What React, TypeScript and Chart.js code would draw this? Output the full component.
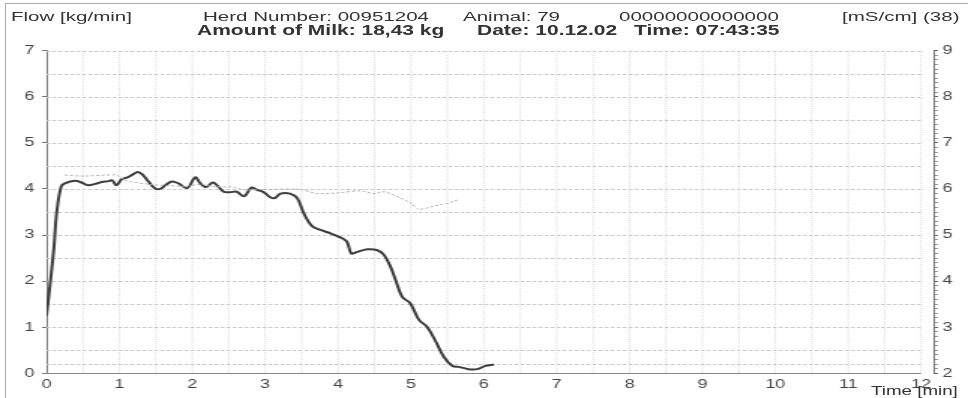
import React, { useEffect, useRef } from "react";
import { Chart, registerables } from "chart.js";

Chart.register(...registerables);

// ---- data (time in minutes) ----
const flowTime = [
  0.0, 0.05, 0.1, 0.14, 0.2, 0.25, 0.39, 0.48, 0.57, 0.67, 0.76, 0.85, 0.9, 0.96,
  1.03, 1.11, 1.17, 1.25, 1.31, 1.4, 1.49, 1.56, 1.63, 1.72, 1.81, 1.93, 2.04,
  2.11, 2.19, 2.28, 2.34, 2.43, 2.52, 2.61, 2.71, 2.81, 2.89, 2.98, 3.07, 3.13,
  3.21, 3.34, 3.44, 3.53, 3.64, 3.76, 3.89, 4.03, 4.12, 4.18, 4.24, 4.4, 4.54,
  4.63, 4.72, 4.79, 4.88, 4.99, 5.11, 5.22, 5.34, 5.45, 5.57, 5.66, 5.79, 5.91,
  6.02, 6.14,
];
const flowValues = [
  1.25, 1.95, 2.7, 3.5, 4.05, 4.12, 4.18, 4.14, 4.08, 4.11, 4.15, 4.17, 4.19, 4.08,
  4.21, 4.25, 4.3, 4.37, 4.32, 4.16, 4.01, 4.0, 4.08, 4.16, 4.12, 4.02, 4.25,
  4.12, 4.04, 4.14, 4.08, 3.94, 3.93, 3.94, 3.84, 4.03, 3.98, 3.93, 3.82, 3.8,
  3.9, 3.9, 3.8, 3.47, 3.2, 3.11, 3.04, 2.95, 2.86, 2.6, 2.62, 2.69, 2.67,
  2.57, 2.31, 2.02, 1.66, 1.52, 1.16, 1.01, 0.69, 0.36, 0.16, 0.14, 0.09, 0.09,
  0.16, 0.19,
];
const condTime = [
  0.25, 0.5, 0.8, 0.96, 1.1, 1.42, 1.88, 2.11, 2.29, 2.57, 2.7, 3.02, 3.48, 3.71,
  4.03, 4.31, 4.49, 4.63, 4.86, 5.0, 5.11, 5.32, 5.5, 5.64,
];
const condValues = [
  6.3, 6.28, 6.3, 6.3, 6.18, 6.1, 6.06, 6.1, 6.05, 6.04, 5.98, 5.99, 5.99, 5.9,
  5.92, 5.96, 5.9, 5.94, 5.8, 5.69, 5.56, 5.63, 5.69, 5.76,
];

// axis ranges / tick labels
const timeTicks = [0, 1, 2, 3, 4, 5, 6, 7, 8, 9, 10, 11, 12];
const flowRange = [0, 7];
const condRange = [2, 9];
const flowExtraGridLevels = [0.2];

const headerRow1 = [
  { text: "Flow [kg/min]", x: 11 },
  { text: "Herd Number: 00951204", x: 203 },
  { text: "Animal: 79", x: 463 },
  { text: "00000000000000", x: 619 },
  { text: "[mS/cm] (38)", x: 842 },
];
const headerRow2 = [
  { text: "Amount of Milk: 18,43 kg", x: 197 },
  { text: "Date: 10.12.02", x: 477 },
  { text: "Time: 07:43:35", x: 634 },
];
const xAxisTitle = "Time [min]";

const STRETCH = 1.5;
const LOGICAL_W = 645;
const H = 398;

const gridPlugin = {
  id: "milkGrid",
  beforeDatasetsDraw(chart: any) {
    const { ctx } = chart;
    const x = chart.scales.x;
    const y = chart.scales.y;
    const tMax = timeTicks[timeTicks.length - 1];
    const x0 = x.getPixelForValue(0);
    const x1 = x.getPixelForValue(tMax);
    const yTop = y.getPixelForValue(flowRange[1]);
    const yBot = y.getPixelForValue(flowRange[0]);
    ctx.save();
    // vertical dotted lines every half minute
    ctx.strokeStyle = "#c4c4c4";
    ctx.lineWidth = 0.7;
    ctx.setLineDash([1, 1.2]);
    for (let k = 1; k <= tMax * 2; k++) {
      const px = x.getPixelForValue(k / 2);
      ctx.beginPath();
      ctx.moveTo(px, yTop);
      ctx.lineTo(px, yBot);
      ctx.stroke();
    }
    // horizontal dashed lines every half unit + threshold line
    ctx.setLineDash([2.5, 1.5]);
    ctx.lineWidth = 1;
    ctx.strokeStyle = "#c8c8c8";
    const levels: number[] = [];
    for (let k = 1; k <= flowRange[1] * 2; k++) levels.push(k / 2);
    levels.push(...flowExtraGridLevels);
    for (const v of levels) {
      const py = Math.round(y.getPixelForValue(v)) + 0.5;
      ctx.beginPath();
      ctx.moveTo(x0, py);
      ctx.lineTo(x1, py);
      ctx.stroke();
    }
    // time axis baseline
    ctx.setLineDash([]);
    ctx.strokeStyle = "#888";
    ctx.beginPath();
    ctx.moveTo(x0, Math.round(yBot) + 0.5);
    ctx.lineTo(x1, Math.round(yBot) + 0.5);
    ctx.stroke();
    ctx.restore();
  },
};

export default function App() {
  const ref = useRef<HTMLCanvasElement>(null);

  useEffect(() => {
    if (!ref.current) return;
    const tickFont = { family: "'Liberation Sans', Arial, sans-serif", size: 12 };
    const chart = new Chart(ref.current, {
      type: "line",
      data: {
        datasets: [
          {
            label: "Conductivity",
            data: condTime.map((t, i) => ({ x: t, y: condValues[i] })),
            yAxisID: "y2",
            borderColor: "#b0b0b0",
            borderWidth: 1,
            borderDash: [2, 1.5],
            pointRadius: 0,
            tension: 0.3,
          },
          {
            label: "Flow",
            data: flowTime.map((t, i) => ({ x: t, y: flowValues[i] })),
            yAxisID: "y",
            borderColor: "#3c3c3c",
            borderWidth: 2,
            pointRadius: 0,
            tension: 0.35,
          },
        ],
      },
      options: {
        animation: false,
        responsive: false,
        devicePixelRatio: 1,
        layout: { padding: { top: 50.7, left: 0, right: 0, bottom: 0 } },
        plugins: { legend: { display: false }, tooltip: { enabled: false }, title: { display: false } },
        scales: {
          x: {
            type: "linear",
            min: 0,
            max: 12.17,
            afterFit: (s: any) => {
              s.height = H - 373.3;
            },
            afterBuildTicks: (s: any) => {
              s.ticks = timeTicks.map((v) => ({ value: v }));
            },
            grid: { display: false, drawTicks: false },
            border: { display: false },
            ticks: { font: tickFont, color: "#444", padding: 4, maxRotation: 0, autoSkip: false, includeBounds: false },
          },
          y: {
            position: "left",
            min: flowRange[0],
            max: flowRange[1],
            afterFit: (s: any) => {
              s.width = 31;
            },
            ticks: { stepSize: 1, font: tickFont, color: "#444", padding: 5 },
            grid: { drawOnChartArea: false, drawTicks: true, tickLength: 3, color: "#777" },
            border: { display: true, color: "#777" },
          },
          y2: {
            position: "right",
            min: condRange[0],
            max: condRange[1],
            afterFit: (s: any) => {
              s.width = LOGICAL_W - 622;
            },
            afterBuildTicks: (s: any) => {
              const arr = [];
              for (let k = condRange[0] * 10; k <= condRange[1] * 10; k++) arr.push({ value: k / 10 });
              s.ticks = arr;
            },
            ticks: {
              font: tickFont,
              color: "#444",
              padding: 3,
              autoSkip: false,
              callback: (v: any) => {
                const n = Number(v);
                return Math.abs(n - Math.round(n)) < 1e-6 ? String(Math.round(n)) : "";
              },
            },
            grid: {
              drawOnChartArea: false,
              drawTicks: true,
              tickLength: 3,
              tickColor: (c: any) => {
                const n = c.tick ? c.tick.value : 0;
                return Math.abs(n - Math.round(n)) < 1e-6 ? "#666" : "#999";
              },
            },
            border: { display: true, color: "#777" },
          },
        },
      },
      plugins: [gridPlugin],
    } as any);
    return () => chart.destroy();
  }, []);

  const baseText: React.CSSProperties = {
    position: "absolute",
    whiteSpace: "nowrap",
    fontFamily: "'Liberation Sans', Arial, sans-serif",
    lineHeight: 1,
    color: "#333",
    transformOrigin: "0 0",
    transform: `scaleX(${STRETCH})`,
  };

  return (
    <div style={{ position: "absolute", left: 0, top: 0, width: 968, height: H, background: "#fff", overflow: "hidden" }}>
      <div style={{ position: "absolute", left: 5, top: 3, width: 963, height: 0, borderTop: "1px solid #aaa" }} />
      <div style={{ position: "absolute", left: 5, top: 3, width: 0, height: H - 3, borderLeft: "1px solid #aaa" }} />
      <canvas ref={ref} width={LOGICAL_W} height={H} style={{ position: "absolute", left: 0, top: 0, width: "968px", height: H + "px" }} />
      {headerRow1.map((h) => (
        <span key={h.text} style={{ ...baseText, left: h.x, top: 10.1, fontSize: 13.7 }}>
          {h.text}
        </span>
      ))}
      {headerRow2.map((h) => (
        <span key={h.text} style={{ ...baseText, left: h.x, top: 23.2, fontSize: 14, fontWeight: "bold" }}>
          {h.text}
        </span>
      ))}
      <span style={{ ...baseText, left: 871, top: 385.4, fontSize: 12.5 }}>{xAxisTitle}</span>
    </div>
  );
}
